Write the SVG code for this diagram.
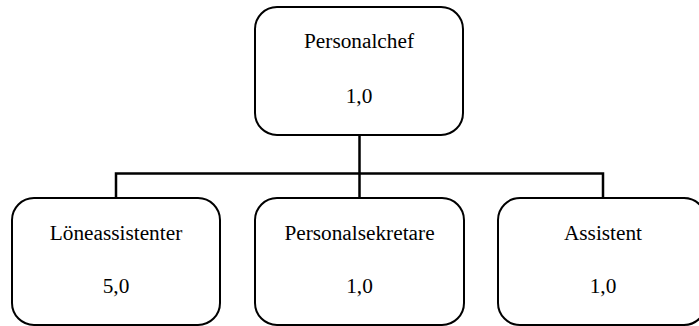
<svg xmlns="http://www.w3.org/2000/svg" width="699" height="326" viewBox="0 0 699 326">
<style>
.box{fill:#fff;stroke:#000;stroke-width:2}
.conn{fill:none;stroke:#000;stroke-width:2.5}
.t{font-size:21.3px;fill:#000;text-anchor:middle}
</style>
<rect width="699" height="326" fill="#fff"/>
<g id="connectors">
<path class="conn" d="M359.5 135 V173.5"/>
<path class="conn" d="M116 198 V173.5 H603 V198"/>
<path class="conn" d="M359.5 173.5 V198"/>
</g>
<g font-family="'Liberation Serif', 'Times New Roman', 'DejaVu Serif', serif">
<g id="personalchef">
<rect class="box" x="255" y="7" width="208" height="128" rx="22"/>
<text class="t" x="359" y="48">Personalchef</text>
<text class="t" x="359" y="103">1,0</text>
</g>
<g id="loneassistenter">
<rect class="box" x="12" y="198" width="208" height="127" rx="22"/>
<text class="t" x="116" y="240">Löneassistenter</text>
<text class="t" x="116" y="293">5,0</text>
</g>
<g id="personalsekretare">
<rect class="box" x="255" y="198" width="209" height="127" rx="22"/>
<text class="t" x="359.5" y="240">Personalsekretare</text>
<text class="t" x="359.5" y="293">1,0</text>
</g>
<g id="assistent">
<rect class="box" x="498" y="198" width="208" height="127" rx="22"/>
<text class="t" x="603" y="240">Assistent</text>
<text class="t" x="603" y="293">1,0</text>
</g>
</g>
</svg>
